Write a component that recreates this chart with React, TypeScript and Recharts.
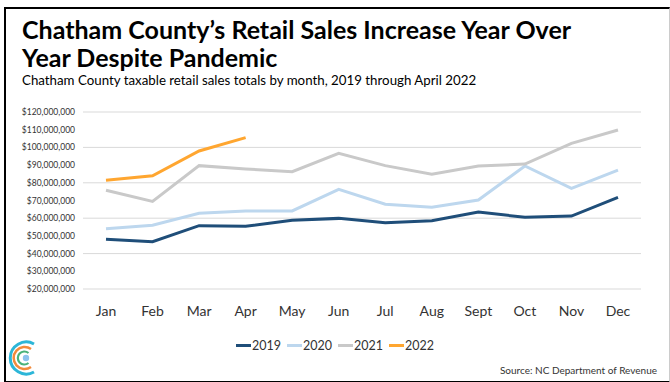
import React from 'react';
import { LineChart, Line, XAxis, YAxis, CartesianGrid, Legend } from 'recharts';

const months = ['Jan', 'Feb', 'Mar', 'Apr', 'May', 'Jun', 'Jul', 'Aug', 'Sept', 'Oct', 'Nov', 'Dec'];
const sales2019 = [48.1, 46.7, 55.8, 55.4, 58.8, 59.9, 57.5, 58.6, 63.5, 60.5, 61.2, 71.8];
const sales2020 = [54.1, 56.0, 62.8, 64.1, 64.1, 76.3, 67.9, 66.2, 70.3, 89.5, 76.9, 87.2];
const sales2021 = [75.8, 69.5, 89.7, 87.8, 86.3, 96.7, 89.7, 84.8, 89.5, 90.6, 102.3, 109.8];
const sales2022 = [81.4, 84.0, 98.0, 105.5];
const yTicks = [20, 30, 40, 50, 60, 70, 80, 90, 100, 110, 120].map((m) => m * 1000000);

const series = [
  { key: '2019', color: '#1F4E79' },
  { key: '2020', color: '#BDD7EE' },
  { key: '2021', color: '#C9C9C9' },
  { key: '2022', color: '#FFA630' },
];

const data = months.map((month, i) => ({
  month,
  '2019': sales2019[i] * 1000000,
  '2020': sales2020[i] * 1000000,
  '2021': sales2021[i] * 1000000,
  '2022': sales2022[i] !== undefined ? sales2022[i] * 1000000 : null,
}));

const font = 'Lato, "Open Sans", sans-serif';

const LegendContent = () => (
  <div style={{ display: 'flex', justifyContent: 'center', fontFamily: font, fontSize: 12.5, color: '#333' }}>
    {series.map((s, i) => (
      <div key={s.key} style={{ display: 'flex', alignItems: 'center', marginRight: i < series.length - 1 ? 6 : 0 }}>
        <span style={{ display: 'inline-block', width: 15, height: 3, background: s.color, marginRight: 1 }} />
        <span>{s.key}</span>
      </div>
    ))}
  </div>
);

const Logo = () => (
  <svg width={36} height={42} style={{ position: 'absolute', left: 0, top: 338 }}>
    <path d="M 34 6 A 16 16 0 1 0 34 34" fill="none" stroke="#2CB6D8" strokeWidth={3} />
    <path d="M 31 11 A 11 11 0 1 0 31 29" fill="none" stroke="#F28B3C" strokeWidth={2.5} />
    <path d="M 28.5 15 A 6.5 6.5 0 1 0 28.5 25" fill="none" stroke="#49B27A" strokeWidth={2.2} />
    <circle cx={26} cy={20} r={3.2} fill="#8CC3EE" />
  </svg>
);

export default function App() {
  return (
    <div
      style={{
        position: 'absolute',
        top: 0,
        left: 0,
        width: 670,
        height: 382,
        background: '#fff',
        overflow: 'hidden',
      }}
    >
      <div
        style={{
          position: 'absolute',
          left: 4,
          top: 7,
          width: 663,
          height: 372,
          borderLeft: '2px solid #000',
          borderTop: '2px solid #000',
          borderBottom: '2px solid #000',
          borderRight: '1px solid #ccc',
        }}
      />
      <div
        style={{
          position: 'absolute',
          left: 22,
          top: 15,
          fontFamily: font,
          fontWeight: 700,
          fontSize: 25,
          lineHeight: '28px',
          color: '#000',
        }}
      >
        <div>Chatham County’s Retail Sales Increase Year Over</div>
        <div>Year Despite Pandemic</div>
      </div>
      <div
        style={{
          position: 'absolute',
          left: 22,
          top: 72,
          fontFamily: font,
          fontSize: 13.3,
          color: '#000',
        }}
      >
        Chatham County taxable retail sales totals by month, 2019 through April 2022
      </div>
      <div style={{ position: 'absolute', left: 0, top: 0 }}>
        <LineChart width={670} height={382} data={data} margin={{ top: 112, right: 29, left: 0, bottom: 63 }}>
          <CartesianGrid vertical={false} stroke="#D9D9D9" />
          <XAxis
            dataKey="month"
            axisLine={false}
            tickLine={false}
            tickSize={0}
            tickMargin={17}
            height={30}
            padding={{ left: 23, right: 23 }}
            tick={{ fill: '#333', fontSize: 14, fontFamily: font }}
          />
          <YAxis
            domain={[20000000, 120000000]}
            ticks={yTicks}
            width={83}
            axisLine={false}
            tickLine={false}
            tickSize={0}
            tickMargin={8}
            tickFormatter={(v: number) => '$' + v.toLocaleString('en-US')}
            tick={{ fill: '#333', fontSize: 8.5, fontFamily: font }}
          />
          <Legend
            verticalAlign="middle"
            align="center"
            wrapperStyle={{ top: 338, left: 0, width: 670 }}
            content={<LegendContent />}
          />
          {series.map((s) => (
            <Line
              key={s.key}
              type="linear"
              dataKey={s.key}
              stroke={s.color}
              strokeWidth={3}
              dot={false}
              activeDot={false}
              isAnimationActive={false}
            />
          ))}
        </LineChart>
      </div>
      <Logo />
      <div
        style={{
          position: 'absolute',
          right: 13,
          top: 364,
          fontFamily: font,
          fontSize: 10,
          color: '#333',
        }}
      >
        Source: NC Department of Revenue
      </div>
    </div>
  );
}
